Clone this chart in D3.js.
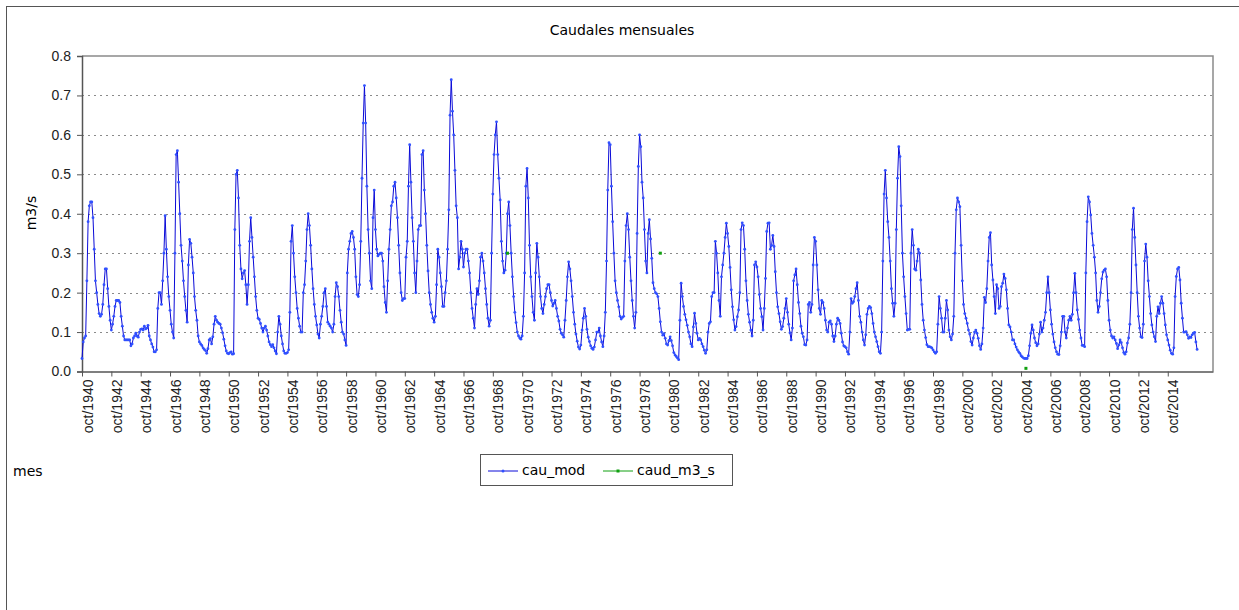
<!DOCTYPE html>
<html>
<head>
<meta charset="utf-8">
<script src="https://cdn.jsdelivr.net/npm/d3@7"></script>
<style>
  body { margin: 0; background: #fff; }
  svg { font-family: "DejaVu Sans", Verdana, sans-serif; }
</style>
</head>
<body>
<svg id="chart" width="1239" height="610"></svg>
<script>
// Caudales mensuales (m3/s), serie modelada, un valor por mes desde oct/1940
const cau1940s = [
  0.033,0.075,0.085,0.09,0.23,0.38,0.42,0.43,0.43,0.39,0.31,0.23,
  0.20,0.17,0.147,0.14,0.145,0.17,0.22,0.26,0.26,0.21,0.165,0.13,
  0.105,0.12,0.14,0.165,0.18,0.18,0.18,0.175,0.14,0.115,0.09,0.08,
  0.08,0.08,0.08,0.08,0.065,0.07,0.085,0.09,0.097,0.09,0.087,0.10,
  0.107,0.108,0.105,0.115,0.108,0.11,0.117,0.09,0.08,0.07,0.062,0.05,
  0.05,0.055,0.16,0.2,0.2,0.17,0.23,0.30,0.395,0.31,0.24,0.19,
  0.155,0.12,0.10,0.085,0.30,0.55,0.56,0.48,0.40,0.32,0.28,0.23,
  0.19,0.155,0.125,0.27,0.335,0.325,0.29,0.25,0.19,0.155,0.13,0.09,
  0.075,0.07,0.066,0.06,0.056,0.053,0.046,0.058,0.08,0.083,0.07,0.088,
  0.12,0.14,0.13,0.125,0.122,0.12,0.11,0.098,0.082,0.065,0.052,0.046
];
const cau1950s = [
  0.045,0.048,0.05,0.044,0.045,0.36,0.50,0.51,0.44,0.32,0.26,0.235,
  0.25,0.256,0.22,0.17,0.22,0.33,0.39,0.34,0.29,0.24,0.19,0.155,
  0.135,0.132,0.122,0.11,0.10,0.11,0.115,0.105,0.09,0.075,0.068,0.063,
  0.068,0.06,0.052,0.045,0.10,0.14,0.12,0.09,0.07,0.052,0.046,0.046,
  0.048,0.055,0.15,0.33,0.37,0.30,0.24,0.2,0.16,0.135,0.115,0.1,
  0.1,0.2,0.22,0.28,0.36,0.40,0.37,0.32,0.26,0.21,0.17,0.14,
  0.118,0.095,0.085,0.12,0.14,0.165,0.2,0.21,0.165,0.125,0.12,0.115,
  0.11,0.10,0.12,0.19,0.225,0.215,0.19,0.155,0.125,0.10,0.095,0.08,
  0.066,0.25,0.31,0.33,0.35,0.355,0.34,0.31,0.24,0.195,0.19,0.22,
  0.33,0.49,0.63,0.725,0.63,0.47,0.36,0.30,0.23,0.21,0.39,0.46
];
const cau1960s = [
  0.36,0.31,0.293,0.297,0.30,0.30,0.28,0.215,0.175,0.15,0.23,0.31,
  0.36,0.42,0.43,0.47,0.48,0.44,0.39,0.32,0.25,0.2,0.18,0.185,
  0.185,0.29,0.33,0.47,0.575,0.48,0.39,0.33,0.25,0.2,0.28,0.36,
  0.37,0.37,0.55,0.56,0.46,0.40,0.32,0.255,0.2,0.17,0.15,0.135,
  0.125,0.14,0.22,0.31,0.29,0.25,0.215,0.165,0.165,0.2,0.23,0.31,
  0.41,0.65,0.74,0.66,0.60,0.51,0.42,0.39,0.26,0.29,0.33,0.31,
  0.265,0.3,0.31,0.31,0.28,0.25,0.2,0.16,0.135,0.11,0.17,0.21,
  0.195,0.23,0.29,0.3,0.28,0.25,0.21,0.17,0.135,0.115,0.13,0.30,
  0.45,0.55,0.60,0.633,0.55,0.49,0.435,0.33,0.28,0.25,0.257,0.30,
  0.40,0.43,0.37,0.30,0.24,0.19,0.15,0.124,0.1,0.09,0.085,0.082
];
const cau1970s = [
  0.09,0.14,0.25,0.47,0.515,0.44,0.32,0.24,0.19,0.15,0.13,0.25,
  0.325,0.29,0.24,0.19,0.16,0.147,0.17,0.19,0.21,0.22,0.22,0.2,
  0.18,0.166,0.173,0.18,0.16,0.14,0.128,0.107,0.097,0.093,0.087,0.13,
  0.18,0.24,0.278,0.26,0.23,0.19,0.15,0.12,0.095,0.077,0.062,0.057,
  0.067,0.105,0.135,0.16,0.14,0.107,0.087,0.076,0.065,0.059,0.056,0.062,
  0.08,0.10,0.10,0.11,0.09,0.075,0.063,0.09,0.15,0.28,0.46,0.58,
  0.575,0.47,0.38,0.30,0.23,0.2,0.18,0.164,0.14,0.133,0.137,0.14,
  0.28,0.37,0.40,0.36,0.29,0.23,0.18,0.14,0.11,0.15,0.35,0.52,
  0.60,0.57,0.48,0.44,0.36,0.28,0.25,0.35,0.385,0.336,0.287,0.225,
  0.21,0.2,0.197,0.19,0.16,0.126,0.1,0.092,0.096,0.084,0.07,0.067
];
const cau1980s = [
  0.078,0.088,0.078,0.065,0.048,0.042,0.038,0.034,0.03,0.13,0.224,0.19,
  0.165,0.145,0.131,0.117,0.1,0.088,0.07,0.063,0.113,0.148,0.122,0.097,
  0.08,0.084,0.08,0.07,0.063,0.054,0.046,0.055,0.1,0.122,0.126,0.19,
  0.2,0.2,0.33,0.3,0.25,0.18,0.14,0.24,0.27,0.3,0.34,0.376,
  0.35,0.317,0.264,0.207,0.164,0.131,0.105,0.114,0.139,0.156,0.2,0.36,
  0.377,0.37,0.31,0.23,0.18,0.145,0.125,0.105,0.09,0.13,0.27,0.278,
  0.265,0.24,0.195,0.16,0.139,0.105,0.16,0.236,0.355,0.376,0.377,0.31,
  0.32,0.345,0.317,0.253,0.2,0.164,0.147,0.126,0.107,0.114,0.135,0.16,
  0.185,0.15,0.12,0.098,0.08,0.11,0.23,0.245,0.26,0.22,0.175,0.147,
  0.115,0.097,0.088,0.068,0.067,0.08,0.17,0.175,0.15,0.17,0.27,0.34
];
const cau1990s = [
  0.33,0.27,0.207,0.16,0.145,0.18,0.175,0.16,0.13,0.105,0.1,0.125,
  0.128,0.12,0.09,0.076,0.09,0.12,0.135,0.13,0.122,0.097,0.075,0.065,
  0.063,0.06,0.05,0.044,0.1,0.185,0.173,0.177,0.19,0.21,0.225,0.18,
  0.14,0.125,0.1,0.08,0.067,0.093,0.145,0.16,0.165,0.162,0.147,0.122,
  0.1,0.088,0.076,0.063,0.05,0.046,0.1,0.28,0.45,0.51,0.44,0.38,
  0.34,0.28,0.21,0.173,0.14,0.173,0.36,0.49,0.57,0.545,0.42,0.3,
  0.24,0.19,0.147,0.105,0.107,0.107,0.3,0.36,0.32,0.26,0.257,0.28,
  0.31,0.3,0.232,0.17,0.13,0.105,0.086,0.068,0.063,0.063,0.062,0.06,
  0.055,0.05,0.046,0.05,0.12,0.19,0.16,0.135,0.1,0.1,0.135,0.18,
  0.156,0.105,0.088,0.08,0.095,0.14,0.3,0.41,0.44,0.43,0.418,0.32
];
const cau2000s = [
  0.23,0.17,0.147,0.135,0.122,0.105,0.095,0.076,0.067,0.085,0.1,0.105,
  0.097,0.084,0.065,0.056,0.07,0.11,0.188,0.175,0.21,0.28,0.34,0.352,
  0.27,0.232,0.19,0.147,0.22,0.21,0.16,0.165,0.215,0.224,0.247,0.236,
  0.207,0.16,0.118,0.113,0.1,0.08,0.08,0.07,0.062,0.055,0.05,0.046,
  0.04,0.037,0.034,0.033,0.033,0.033,0.04,0.065,0.097,0.118,0.105,0.085,
  0.073,0.065,0.07,0.095,0.125,0.1,0.11,0.13,0.15,0.2,0.24,0.2,
  0.156,0.12,0.095,0.075,0.06,0.05,0.044,0.043,0.065,0.1,0.14,0.14,
  0.1,0.085,0.11,0.13,0.14,0.13,0.145,0.2,0.249,0.2,0.156,0.132,
  0.105,0.085,0.066,0.066,0.063,0.25,0.38,0.443,0.43,0.397,0.35,0.32,
  0.29,0.25,0.18,0.15,0.165,0.2,0.235,0.252,0.257,0.26,0.24,0.18
];
const cau2010s = [
  0.13,0.105,0.09,0.085,0.088,0.08,0.071,0.058,0.067,0.08,0.073,0.06,
  0.048,0.044,0.05,0.072,0.085,0.12,0.2,0.36,0.414,0.34,0.27,0.2,
  0.14,0.11,0.088,0.086,0.12,0.28,0.323,0.29,0.23,0.19,0.147,0.118,
  0.1,0.088,0.076,0.14,0.164,0.147,0.173,0.19,0.173,0.147,0.118,0.093,
  0.08,0.067,0.054,0.046,0.044,0.06,0.19,0.241,0.26,0.264,0.232,0.173,
  0.135,0.1,0.1,0.101,0.093,0.084,0.088,0.086,0.093,0.097,0.099,0.075,
  0.056
];

// Caudal observado: solo hay unos pocos meses con dato
const obsMes = [348, 473, 772];      // indice de mes desde oct/1940
const obsCaudal = [0.30, 0.30, 0.008];

// Etiquetas del eje x (cada 24 meses) y del eje y
const xLabels = [
  "oct/1940","oct/1942","oct/1944","oct/1946","oct/1948","oct/1950","oct/1952","oct/1954",
  "oct/1956","oct/1958","oct/1960","oct/1962","oct/1964","oct/1966","oct/1968","oct/1970",
  "oct/1972","oct/1974","oct/1976","oct/1978","oct/1980","oct/1982","oct/1984","oct/1986",
  "oct/1988","oct/1990","oct/1992","oct/1994","oct/1996","oct/1998","oct/2000","oct/2002",
  "oct/2004","oct/2006","oct/2008","oct/2010","oct/2012","oct/2014"
];
const yTicks = [0, 0.1, 0.2, 0.3, 0.4, 0.5, 0.6, 0.7, 0.8];
const seriesNames = ["cau_mod", "caud_m3_s"];

const cauMod = [].concat(cau1940s, cau1950s, cau1960s, cau1970s,
                         cau1980s, cau1990s, cau2000s, cau2010s);
const modData = cauMod.map((v, i) => ({ m: i, v: v }));
const obsData = obsMes.map((m, i) => ({ m: m, v: obsCaudal[i] }));

// Area del grafico
const plotL = 82, plotR = 1213, plotT = 56, plotB = 371.5;
const blue = "#0a0ad8", green = "#10a010";

const svg = d3.select("#chart");

const x = d3.scaleLinear().domain([0, 925]).range([plotL, plotR]);
const y = d3.scaleLinear().domain([0, 0.8]).range([plotB, plotT]);

// marco exterior
svg.append("rect")
    .attr("x", 6.5).attr("y", 6.5)
    .attr("width", 1260).attr("height", 640)
    .attr("fill", "none").attr("stroke", "#555");

// titulo
svg.append("text")
    .attr("x", 622).attr("y", 35)
    .attr("text-anchor", "middle")
    .attr("font-size", 14)
    .text("Caudales mensuales");

// lineas de la rejilla (punteadas)
svg.append("g")
    .selectAll("line")
    .data(yTicks.filter(d => d > 0 && d < 0.8))
    .enter()
    .append("line")
    .attr("x1", plotL).attr("x2", plotR)
    .attr("y1", d => Math.round(y(d)) + 0.5)
    .attr("y2", d => Math.round(y(d)) + 0.5)
    .attr("stroke", "#8a8a8a")
    .attr("stroke-dasharray", "2,4");

// borde superior y derecho del area
svg.append("path")
    .attr("d", `M${plotL},${plotT}H${plotR}V${plotB}`)
    .attr("fill", "none")
    .attr("stroke", "#8a8a8a")
    .attr("stroke-width", 1.5);

// eje y
const yAxis = svg.append("g")
    .attr("transform", `translate(${plotL},0)`)
    .call(d3.axisLeft(y).tickValues(yTicks).tickFormat(d3.format(".1f")).tickSize(5).tickPadding(6));
yAxis.selectAll("text").attr("font-size", 14).attr("font-family", null).attr("fill", "#222");
yAxis.selectAll("line").attr("stroke", "#555");
yAxis.select(".domain").attr("stroke", "#555").attr("stroke-width", 1.5);

// eje x
const xAxis = svg.append("g")
    .attr("transform", `translate(0,${plotB})`)
    .call(d3.axisBottom(x)
        .tickValues(xLabels.map((d, i) => i * 24))
        .tickFormat((d, i) => xLabels[i])
        .tickSize(5)
        .tickSizeOuter(0));
xAxis.selectAll("text")
    .attr("transform", "rotate(-90)")
    .attr("text-anchor", "end")
    .attr("x", -8)
    .attr("y", 10)
    .attr("dy", null)
    .attr("font-size", 14)
    .attr("font-family", null)
    .attr("fill", "#222");
xAxis.selectAll("line").attr("stroke", "#555");
xAxis.select(".domain").attr("stroke", "#555").attr("stroke-width", 1.5);

// titulos de ejes
svg.append("text")
    .attr("transform", "translate(36,213) rotate(-90)")
    .attr("text-anchor", "middle")
    .attr("font-size", 14)
    .text("m3/s");

svg.append("text")
    .attr("x", 13).attr("y", 476)
    .attr("font-size", 14)
    .text("mes");

// serie modelada
const line = d3.line().x(d => x(d.m)).y(d => y(d.v));

svg.append("path")
    .datum(modData)
    .attr("d", line)
    .attr("fill", "none")
    .attr("stroke", blue)
    .attr("stroke-width", 1);

svg.append("g")
    .selectAll("circle")
    .data(modData)
    .enter()
    .append("circle")
    .attr("cx", d => x(d.m))
    .attr("cy", d => y(d.v))
    .attr("r", 1.4)
    .attr("fill", "#3050ff");

// caudal observado
svg.append("g")
    .selectAll("rect")
    .data(obsData)
    .enter()
    .append("rect")
    .attr("x", d => x(d.m) - 1.5)
    .attr("y", d => y(d.v) - 1.5)
    .attr("width", 3).attr("height", 3)
    .attr("fill", green);

// leyenda
const legend = svg.append("g").attr("transform", "translate(480,454)");
legend.append("rect")
    .attr("x", 0.5).attr("y", 0.5)
    .attr("width", 252).attr("height", 31)
    .attr("fill", "#fff").attr("stroke", "#555");

const legendItems = [
  { name: seriesNames[0], color: blue, x0: 8 },
  { name: seriesNames[1], color: green, x0: 123 }
];
legendItems.forEach((it, i) => {
    legend.append("line")
        .attr("x1", it.x0).attr("x2", it.x0 + 30)
        .attr("y1", 17).attr("y2", 17)
        .attr("stroke", it.color).attr("stroke-width", 1);
    if (i === 0) {
        legend.append("circle").attr("cx", it.x0 + 15).attr("cy", 17).attr("r", 1.5).attr("fill", "#3050ff");
    } else {
        legend.append("rect").attr("x", it.x0 + 13.5).attr("y", 15.5).attr("width", 3).attr("height", 3).attr("fill", green);
    }
    legend.append("text")
        .attr("x", it.x0 + 34).attr("y", 21)
        .attr("font-size", 14)
        .text(it.name);
});
</script>
</body>
</html>
